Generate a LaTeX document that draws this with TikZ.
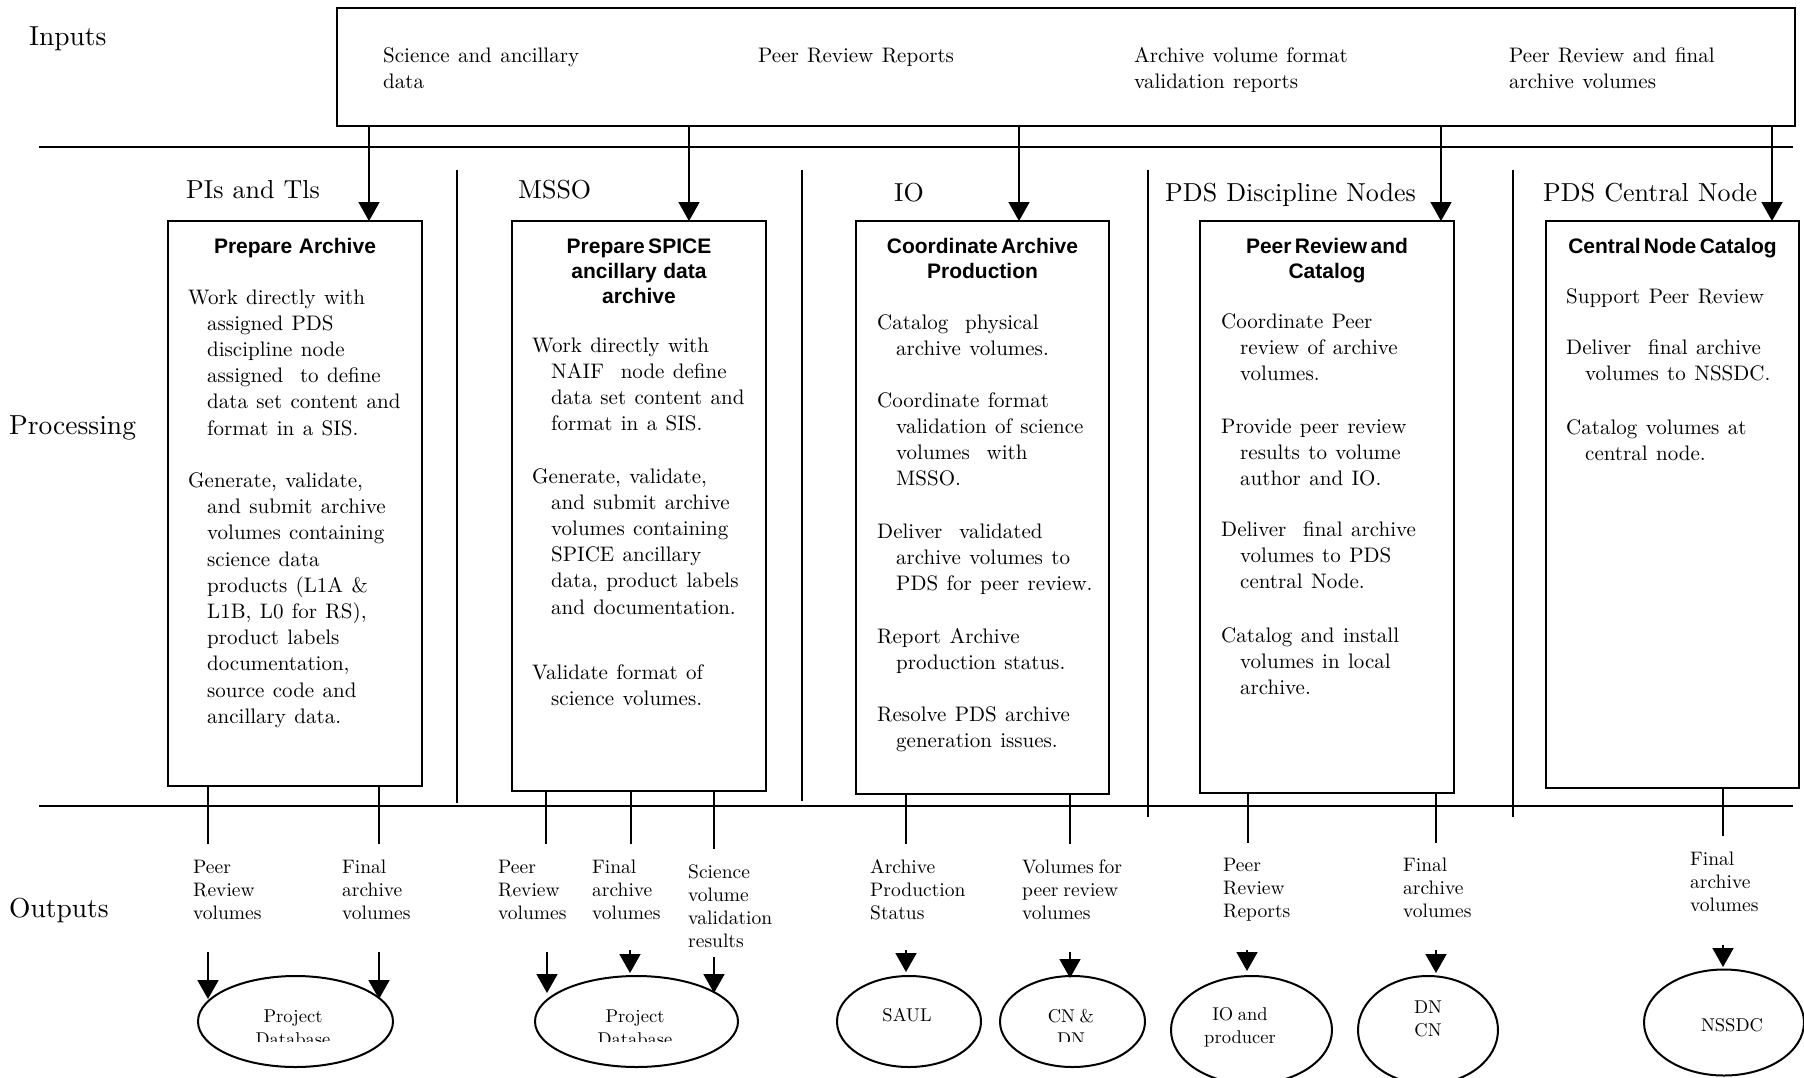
\documentclass[tikz,border=0pt]{standalone}
\usepackage{fontspec}
\setmainfont{lmroman10-regular}[Extension=.otf]
\newfontfamily\sansbold{Liberation Sans}
\usetikzlibrary{arrows.meta,shapes.geometric}
\newcommand\bodyfnt{\fontsize{21}{26.2}\selectfont\spaceskip=0.4em\relax}
\newcommand\outfnt{\fontsize{19.5}{23}\selectfont\spaceskip=0.25em\relax}
\newcommand\ttlfnt{\sansbold\bfseries\fontsize{21}{25}\selectfont}
\begin{document}
\begin{tikzpicture}[x=1pt,y=-1pt,
 frame/.style={draw, line width=1.8pt, inner sep=0pt, outer sep=0pt, anchor=north west},
 rule/.style={line width=1.4pt},
 arr/.style={line width=1.8pt, -{Triangle[width=21pt,length=19pt]}},
 rowlab/.style={font=\fontsize{27.5}{33}\selectfont, anchor=base west, inner sep=0pt},
 collab/.style={font={\fontsize{26}{31}\selectfont\spaceskip=0.35em\relax}, anchor=base west, inner sep=0pt},
 intext/.style={anchor=base west, inner sep=0pt, text width=320pt, align=left, execute at begin node=\bodyfnt},
 ttl/.style={anchor=base, inner sep=0pt, text width=250pt, align=center, execute at begin node=\ttlfnt},
 para/.style={anchor=base west, inner sep=0pt, text width=240pt, align=left, execute at begin node={\bodyfnt\hangindent=19pt\hangafter=1\relax}},
 outlab/.style={anchor=base west, inner sep=0pt, text width=160pt, align=left, execute at begin node=\outfnt},
 ell/.style={draw, ellipse, line width=2pt, inner sep=0pt, outer sep=0pt},
 elltext/.style={font={\fontsize{18.5}{23}\selectfont\spaceskip=0.25em\relax}, anchor=base, inner sep=0pt},
]
\useasboundingbox (0,0) rectangle (1804,1077);
% row labels and rules
\node[rowlab] (lin) at (29,45) {Inputs};
\node[rowlab] (lproc) at (9,434) {Processing};
\node[rowlab] (lout) at (9,917) {Outputs};
\coordinate (r1a) at (39,147); \coordinate (r1b) at (1793,147);
\coordinate (r2a) at (39,806); \coordinate (r2b) at (1793,806);
\draw[rule] (r1a) -- (r1b);
\draw[rule] (r2a) -- (r2b);
% column separators
\coordinate (s1a) at (457,170); \coordinate (s1b) at (457,803);
\coordinate (s2a) at (802,170); \coordinate (s2b) at (802,801);
\coordinate (s3a) at (1148,170); \coordinate (s3b) at (1148,817);
\coordinate (s4a) at (1513,170); \coordinate (s4b) at (1513,817);
\draw[rule] (s1a) -- (s1b);
\draw[rule] (s2a) -- (s2b);
\draw[rule] (s3a) -- (s3b);
\draw[rule] (s4a) -- (s4b);
% inputs box
\node[frame, minimum width=1458pt, minimum height=118pt] (inbox) at (337,8) {};
\node[intext] (in1) at (383,62) {Science and ancillary\\data};
\node[intext] (in2) at (758,62) {Peer Review Reports};
\node[intext] (in3) at (1134,62) {Archive volume format\\validation reports};
\node[intext] (in4) at (1509,62) {Peer Review and final\\archive volumes};
% column headers
\node[collab] (h1) at (186,198) {PIs and Tls};
\node[collab] (h2) at (518,198) {MSSO};
\node[collab] (h3) at (894,201) {IO};
\node[collab] (h4) at (1165,201) {PDS Discipline Nodes};
\node[collab] (h5) at (1543,201) {PDS Central Node};
% process boxes
\node[frame, minimum width=254pt, minimum height=565pt] (b1) at (168,221) {};
\node[frame, minimum width=254pt, minimum height=570pt] (b2) at (512,221) {};
\node[frame, minimum width=253pt, minimum height=573pt] (b3) at (856,221) {};
\node[frame, minimum width=254pt, minimum height=572pt] (b4) at (1200,221) {};
\node[frame, minimum width=253pt, minimum height=567pt] (b5) at (1546,221) {};
% input arrows
\draw[arr] (369,0 |- inbox.south) -- (369,0 |- b1.north);
\draw[arr] (689,0 |- inbox.south) -- (689,0 |- b2.north);
\draw[arr] (1019,0 |- inbox.south) -- (1019,0 |- b3.north);
\draw[arr] (1441,0 |- inbox.south) -- (1441,0 |- b4.north);
\draw[arr] (1772,0 |- inbox.south) -- (1772,0 |- b5.north);
% titles
\node[ttl] (t1) at (b1.north |- 0,253) {Prepare\ \ Archive};
\node[ttl] (t2) at (b2.north |- 0,253) {Prepare SPICE\\ancillary\ \ data\\archive};
\node[ttl] (t3) at (b3.north |- 0,253) {Coordinate Archive\\Production};
\node[ttl] (t4) at (b4.north |- 0,253) {Peer Review and\\Catalog};
\node[ttl] (t5) at (b5.north |- 0,253) {Central Node Catalog};
% box 1
\node[para] (p11) at (188,304) {Work directly with\newline assigned PDS\newline discipline node\newline assigned~ to define\newline data set content and\newline format in a SIS.};
\node[para] (p12) at (188,487.5) {Generate, validate,\newline and submit archive\newline volumes containing\newline science data\newline products (L1A \&\newline L1B, L0 for RS),\newline product labels\newline documentation,\newline source code and\newline ancillary data.};
% box 2
\node[para] (p21) at (532,352) {Work directly with\newline NAIF~ node define\newline data set content and\newline format in a SIS.};
\node[para] (p22) at (532,483) {Generate, validate,\newline and submit archive\newline volumes containing\newline SPICE ancillary\newline data, product labels\newline and documentation.};
\node[para] (p23) at (532,679) {Validate format of\newline science volumes.};
% box 3
\node[para] (p31) at (877,329) {Catalog~ physical\newline archive volumes.};
\node[para] (p32) at (877,407) {Coordinate format\newline validation of science\newline volumes~ with\newline MSSO.};
\node[para] (p33) at (877,538.5) {Deliver~ validated\newline archive volumes to\newline PDS for peer review.};
\node[para] (p34) at (877,643) {Report Archive\newline production status.};
\node[para] (p35) at (877,721.5) {Resolve PDS archive\newline generation issues.};
% box 4
\node[para] (p41) at (1221,328) {Coordinate Peer\newline review of archive\newline volumes.};
\node[para] (p42) at (1221,433) {Provide peer review\newline results to volume\newline author and IO.};
\node[para] (p43) at (1221,536) {Deliver~ final archive\newline volumes to PDS\newline central Node.};
\node[para] (p44) at (1221,642) {Catalog and install\newline volumes in local\newline archive.};
% box 5
\node[para] (p51) at (1566,303) {Support Peer Review};
\node[para] (p52) at (1566,354) {Deliver~ final archive\newline volumes to NSSDC.};
\node[para] (p53) at (1566,434) {Catalog volumes at\newline central node.};
% output lines from boxes
\coordinate (o1) at (208,844);  \draw[rule] (o1 |- b1.south) -- (o1);
\coordinate (o2) at (379,844);  \draw[rule] (o2 |- b1.south) -- (o2);
\coordinate (o3) at (546,844);  \draw[rule] (o3 |- b2.south) -- (o3);
\coordinate (o4) at (631,844);  \draw[rule] (o4 |- b2.south) -- (o4);
\coordinate (o5) at (714,849);  \draw[rule] (o5 |- b2.south) -- (o5);
\coordinate (o6) at (906,844);  \draw[rule] (o6 |- b3.south) -- (o6);
\coordinate (o7) at (1070,844); \draw[rule] (o7 |- b3.south) -- (o7);
\coordinate (o8) at (1248,843); \draw[rule] (o8 |- b4.south) -- (o8);
\coordinate (o9) at (1436,843); \draw[rule] (o9 |- b4.south) -- (o9);
\coordinate (o10) at (1723,836); \draw[rule] (o10 |- b5.south) -- (o10);
% output labels
\node[outlab] (l1) at (193,873) {Peer\\Review\\volumes};
\node[outlab] (l2) at (342,873) {Final\\archive\\volumes};
\node[outlab] (l3) at (498,873) {Peer\\Review\\volumes};
\node[outlab] (l4) at (592,873) {Final\\archive\\volumes};
\node[outlab] (l5) at (688,878) {Science\\volume\\validation\\results};
\node[outlab] (l6) at (870,873) {Archive\\Production\\Status};
\node[outlab] (l7) at (1022,873) {Volumes for\\peer review\\volumes};
\node[outlab] (l8) at (1223,871) {Peer\\Review\\Reports};
\node[outlab] (l9) at (1403,871) {Final\\archive\\volumes};
\node[outlab] (l10) at (1690,865) {Final\\archive\\volumes};
% destination ellipses
\node[ell, minimum width=195pt, minimum height=91pt] (e1) at (295.5,1021.5) {};
\node[ell, minimum width=203pt, minimum height=91pt] (e2) at (636.5,1021.5) {};
\node[ell, minimum width=144pt, minimum height=91pt] (e3) at (909,1021.5) {};
\node[ell, minimum width=145pt, minimum height=91pt] (e4) at (1072.5,1021.5) {};
\node[ell, minimum width=161pt, minimum height=108pt] (e5) at (1251.5,1030) {};
\node[ell, minimum width=140pt, minimum height=108pt] (e6) at (1428,1030) {};
\node[ell, minimum width=160pt, minimum height=106pt] (e7) at (1724,1022.5) {};
% arrows to destinations
\coordinate (a1s) at (208,952);  \coordinate (a1e) at (208,999);  \draw[arr] (a1s) -- (a1e);
\coordinate (a2s) at (379,952);  \coordinate (a2e) at (379,999);  \draw[arr] (a2s) -- (a2e);
\coordinate (a3s) at (547,952);  \coordinate (a3e) at (547,993);  \draw[arr] (a3s) -- (a3e);
\coordinate (a4s) at (630,950);  \coordinate (a4e) at (630,973);  \draw[arr] (a4s) -- (a4e);
\coordinate (a5s) at (714,957);  \coordinate (a5e) at (714,993);  \draw[arr] (a5s) -- (a5e);
\coordinate (a6s) at (906,950);  \coordinate (a6e) at (906,972);  \draw[arr] (a6s) -- (a6e);
\coordinate (a7s) at (1070,952); \coordinate (a7e) at (1070,978); \draw[arr] (a7s) -- (a7e);
\coordinate (a8s) at (1247,950); \coordinate (a8e) at (1247,971); \draw[arr] (a8s) -- (a8e);
\coordinate (a9s) at (1436,950); \coordinate (a9e) at (1436,973); \draw[arr] (a9s) -- (a9e);
\coordinate (a10s) at (1723,945); \coordinate (a10e) at (1723,967); \draw[arr] (a10s) -- (a10e);
% ellipse texts
\node[elltext] (e1a) at (293,1022) {Project};
\begin{scope}
\clip (180,1000) rectangle (410,1041);
\node[elltext] (e1b) at (293,1045) {Database};
\end{scope}
\node[elltext] (e2a) at (635,1022) {Project};
\begin{scope}
\clip (520,1000) rectangle (750,1041);
\node[elltext] (e2b) at (635,1045) {Database};
\end{scope}
\node[elltext] (e3a) at (907,1021) {SAUL};
\node[elltext] (e4a) at (1071,1022) {CN \&};
\begin{scope}
\clip (1000,1000) rectangle (1140,1041);
\node[elltext] (e4b) at (1071,1045) {DN};
\end{scope}
\node[elltext] (e5a) at (1240,1020) {IO and};
\node[elltext] (e5b) at (1240,1043) {producer};
\node[elltext] (e6a) at (1428,1013) {DN};
\node[elltext] (e6b) at (1428,1036) {CN};
\node[elltext] (e7a) at (1732,1031) {NSSDC};
\end{tikzpicture}
\end{document}
